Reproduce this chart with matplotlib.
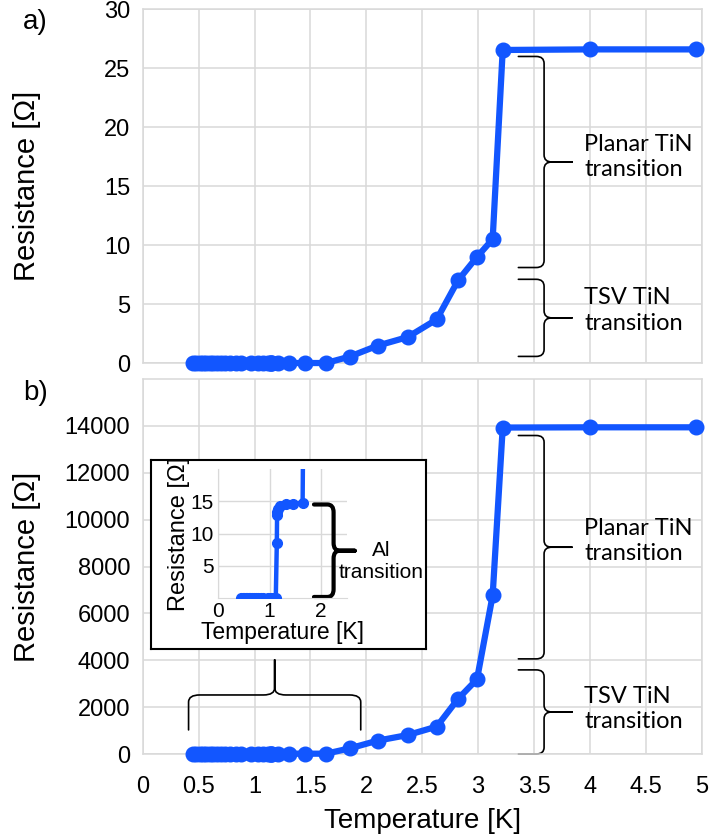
#!/usr/bin/env python3
# -*- coding: utf-8 -*-
"""
Resistance vs temperature: TiN (a) and TSV chain with Al inset (b)
"""

import numpy as np
import matplotlib
matplotlib.use('Agg')
import matplotlib.pyplot as plt
from matplotlib.path import Path
from matplotlib.patches import PathPatch

plt.rcParams['font.family'] = ['Liberation Sans', 'DejaVu Sans']

# measured temperatures [K] (shared by both panels)
temps = [0.45, 0.48, 0.51, 0.54, 0.57, 0.60, 0.63, 0.66, 0.70, 0.74, 0.78,
         0.83, 0.88, 0.97, 1.03, 1.08, 1.12, 1.14, 1.145, 1.15, 1.16, 1.21,
         1.31, 1.45, 1.64, 1.85, 2.10, 2.37, 2.63, 2.82, 2.99, 3.13, 3.22,
         4.00, 4.95]

# panel a) resistance [Ohm]
res_a = [0, 0, 0, 0, 0, 0, 0, 0, 0, 0, 0,
         0, 0, 0, 0, 0, 0, 0, 0, 0, 0, 0,
         0, 0, 0, 0.54, 1.47, 2.2, 3.7, 7.0, 9.0, 10.5, 26.55,
         26.6, 26.6]

# panel b) resistance [Ohm]
res_b = [0, 0, 0, 0, 0, 0, 0, 0, 0, 0, 0,
         0, 0, 0, 0, 0, 0, 8.5, 12.9, 13.4, 13.8, 14.3,
         14.6, 14.6, 14.8, 240, 570, 810, 1170, 2350, 3190, 6770, 13930,
         13940, 13940]

x_ticks = [0, 0.5, 1, 1.5, 2, 2.5, 3, 3.5, 4, 4.5, 5]
x_tick_labels = ['0', '0.5', '1', '1.5', '2', '2.5', '3', '3.5', '4', '4.5', '5']
ya_ticks = [0, 5, 10, 15, 20, 25, 30]
yb_ticks = [0, 2000, 4000, 6000, 8000, 10000, 12000, 14000]
inset_x_ticks = [0, 1, 2]
inset_y_ticks = [5, 10, 15]

BLUE = '#1256ff'
GRID = '#d9d9d9'


def brace(ax, a0, a1, tip, body, point, r, rp, vertical=True, **kw):
    """Curly brace: a0..a1 along its length, tip/body/point across it"""
    mid = (a0 + a1) / 2.0
    s = 1.0 if point > tip else -1.0
    pts = [(a1, tip), (a1, body - s * rp), (a1, body), (a1 - r, body),
           (mid + r, body), (mid, body), (mid, body + s * rp), (mid, point),
           (a0, tip), (a0, body - s * rp), (a0, body), (a0 + r, body),
           (mid - r, body), (mid, body), (mid, body + s * rp), (mid, point)]
    codes = [Path.MOVETO, Path.LINETO, Path.CURVE3, Path.CURVE3,
             Path.LINETO, Path.CURVE3, Path.CURVE3, Path.LINETO] * 2
    if vertical:
        verts = [(p, a) for a, p in pts]
    else:
        verts = pts
    patch = PathPatch(Path(verts, codes), fill=False, clip_on=False,
                      capstyle='round', joinstyle='round', **kw)
    ax.add_patch(patch)


def style_axes(ax):
    ax.grid(True, color=GRID, linewidth=1.1)
    ax.set_axisbelow(True)
    for sp in ax.spines.values():
        sp.set_color(GRID)
        sp.set_linewidth(1.1)
    ax.tick_params(length=0)


fig = plt.figure(figsize=(7.14, 8.38), dpi=100)

# ---------- panel a ----------
ax_a = fig.add_axes([0.1999, 0.5668, 0.7829, 0.4221])
style_axes(ax_a)
ax_a.plot(temps, res_a, '-o', color=BLUE, lw=4.5, ms=10.5, clip_on=False, zorder=3)
ax_a.set_xlim(0, 5)
ax_a.set_ylim(0, 30)
ax_a.set_xticks(x_ticks)
ax_a.set_yticks(ya_ticks)
ax_a.tick_params(axis='x', labelbottom=False)
ax_a.tick_params(axis='y', labelsize=17, pad=9)
ax_a.set_ylabel('Resistance [Ω]', fontsize=21)
ax_a.yaxis.set_label_coords(-0.182, 0.5)

brace(ax_a, 8.1, 26.0, 3.36, 3.59, 3.84, 0.6, 0.07, color='black', lw=1.2)
brace(ax_a, 0.56, 7.1, 3.36, 3.59, 3.84, 0.6, 0.07, color='black', lw=1.2)
ax_a.text(3.95, 17.5, 'Planar TiN\ntransition', family='Lato', fontsize=17,
          ha='left', va='center', linespacing=1.25)
ax_a.text(3.95, 4.45, 'TSV TiN\ntransition', family='Lato', fontsize=17,
          ha='left', va='center', linespacing=1.25)

# ---------- panel b ----------
ax_b = fig.add_axes([0.1999, 0.1002, 0.7829, 0.4475])
style_axes(ax_b)
ax_b.plot(temps, res_b, '-o', color=BLUE, lw=4.5, ms=10.5, clip_on=False, zorder=3)
ax_b.set_xlim(0, 5)
ax_b.set_ylim(0, 16000)
ax_b.set_xticks(x_ticks)
ax_b.set_xticklabels(x_tick_labels)
ax_b.set_yticks(yb_ticks)
ax_b.tick_params(axis='both', labelsize=17)
ax_b.tick_params(axis='x', pad=16)
ax_b.tick_params(axis='y', pad=9)
ax_b.set_ylabel('Resistance [Ω]', fontsize=21)
ax_b.yaxis.set_label_coords(-0.182, 0.5)
ax_b.set_xlabel('Temperature [K]', fontsize=20, labelpad=7)

brace(ax_b, 4060, 13590, 3.36, 3.59, 3.84, 285, 0.07, color='black', lw=1.2)
brace(ax_b, 0, 3590, 3.36, 3.59, 3.84, 285, 0.07, color='black', lw=1.2)
ax_b.text(3.95, 9100, 'Planar TiN\ntransition', family='Lato', fontsize=17,
          ha='left', va='center', linespacing=1.25)
ax_b.text(3.95, 1920, 'TSV TiN\ntransition', family='Lato', fontsize=17,
          ha='left', va='center', linespacing=1.25)

# brace under the inset
brace(ax_b, 0.41, 1.95, 1030, 2520, 4020, 0.1, 300, vertical=False,
      color='black', lw=1.2)

# ---------- inset ----------
ax_box = fig.add_axes([0.2115, 0.2255, 0.3852, 0.2256])
ax_box.set_xticks([])
ax_box.set_yticks([])
ax_box.set_facecolor('white')
for sp in ax_box.spines.values():
    sp.set_color('black')
    sp.set_linewidth(1.5)

ax_in = fig.add_axes([0.3053, 0.2864, 0.1807, 0.1539])
ax_in.grid(True, color=GRID, linewidth=1.0)
ax_in.set_axisbelow(True)
ax_in.set_facecolor('none')
for name, sp in ax_in.spines.items():
    sp.set_color(GRID)
    if name in ('top', 'right'):
        sp.set_visible(False)
ax_in.plot(temps, res_b, '-o', color=BLUE, lw=3.2, ms=7, zorder=3)
ax_in.set_xlim(0, 2.5)
ax_in.set_ylim(0, 20)
ax_in.set_xticks(inset_x_ticks)
ax_in.set_yticks(inset_y_ticks)
ax_in.tick_params(length=0, labelsize=15, pad=3)
ax_in.set_ylabel('Resistance [Ω]', fontsize=17)
ax_in.yaxis.set_label_coords(-0.22, 0.5)
ax_in.set_xlabel('Temperature [K]', fontsize=16.5, labelpad=0)

brace(ax_in, 0.16, 14.5, 1.86, 2.24, 2.65, 1.2, 0.12, color='black', lw=3)
ax_in.text(3.17, 5.65, 'Al\ntransition', fontsize=15, ha='center',
           va='center', clip_on=False)

# panel labels
fig.text(35 / 714, 1 - 22 / 838, 'a)', fontsize=20, ha='center', va='center')
fig.text(36 / 714, 1 - 393 / 838, 'b)', fontsize=20, ha='center', va='center')

plt.savefig('out.png', dpi=100)
plt.close()
